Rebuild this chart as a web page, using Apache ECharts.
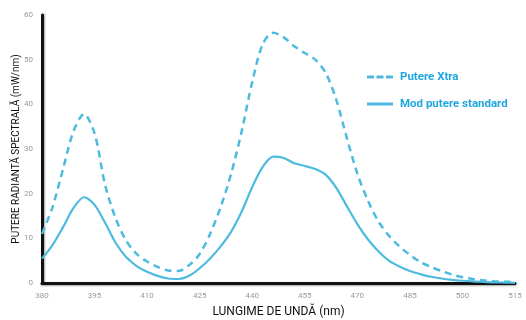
<!DOCTYPE html>
<html><head><meta charset="utf-8">
<script src="https://cdn.jsdelivr.net/npm/echarts@6/dist/echarts.min.js"></script>
<style>html,body{margin:0;padding:0;background:#fff}#c{width:526px;height:320px}</style>
</head><body><div id="c"></div>
<script>
var wavelengths = [380,383,386,389,392,395,398,401,404,407,410,413,416,419,422,425,428,431,434,437,440,443,446,449,452,455,458,461,464,467,470,473,476,479,482,485,488,491,494,497,500,503,506,509,512,515];
var xtra = [11,17,25.5,34,37.8,33.5,22,14.5,9.5,6.5,4.8,3.6,2.8,2.7,4,6.5,11,17,24.5,34,45,53.5,56,55,53,51.5,50,47,41,32.5,24.5,18.5,13.8,10.6,8.2,6.3,4.7,3.6,2.7,1.9,1.3,0.9,0.6,0.4,0.3,0.2];
var standard = [5.5,8.5,12.5,16.8,19.2,17.5,13.5,9,5.8,3.8,2.5,1.6,1.0,0.9,1.6,3.3,5.5,8.2,11.5,16,21.5,26,28.3,28,26.8,26.2,25.5,24.2,21.3,17.2,13.2,9.8,7.1,5,3.7,2.7,2,1.4,1.0,0.7,0.5,0.35,0.25,0.15,0.1,0.05];
var xTicks = [380, 395, 410, 425, 440, 455, 470, 485, 500, 515];
var yTicks = [0, 10, 20, 30, 40, 50, 60];
var seriesNames = ['Putere Xtra', 'Mod putere standard'];
var xName = 'LUNGIME DE UNDĂ (nm)';
var yName = 'PUTERE RADIANTĂ SPECTRALĂ (mW/nm)';

function pairs(xs, ys){ return xs.map(function(x,i){ return [x, ys[i]]; }); }
var lineColor = '#4dbbdf';
var chart = echarts.init(document.getElementById('c'));
chart.setOption({
  animation: false,
  grid: {left: 42, right: 11, top: 15, bottom: 37, containLabel: false, outerBoundsMode: 'none'},
  legend: {
    orient: 'vertical', left: 362, top: 66, itemWidth: 26, itemHeight: 3, itemGap: 15,
    data: [
      {name: seriesNames[0], icon: 'path://M0,0h7v3h-7z M9.5,0h7v3h-7z M19,0h7v3h-7z'},
      {name: seriesNames[1], icon: 'path://M0,0h26v3h-26z'}
    ],
    itemStyle: {color: lineColor},
    textStyle: {color: '#1ea6df', fontSize: 11.5, fontWeight: 'bold', fontFamily: 'Roboto', padding: [0,0,0,2]}
  },
  xAxis: {
    type: 'value', min: xTicks[0], max: xTicks[xTicks.length-1], interval: 15,
    name: xName, nameLocation: 'middle', nameGap: 23, nameMoveOverlap: false,
    nameTextStyle: {color: '#111', fontSize: 12, fontFamily: 'Roboto'},
    axisLine: {lineStyle: {color: '#111', width: 3, shadowColor: 'rgba(0,0,0,0.35)', shadowBlur: 2, shadowOffsetY: 1}},
    axisTick: {show: false},
    axisLabel: {color: '#999', fontSize: 8, margin: 9, fontFamily: 'Roboto'},
    splitLine: {show: false}
  },
  yAxis: {
    type: 'value', min: yTicks[0], max: yTicks[yTicks.length-1], interval: 10,
    name: yName, nameLocation: 'middle', nameGap: 21, nameRotate: 90, nameMoveOverlap: false,
    nameTextStyle: {color: '#111', fontSize: 10, fontFamily: 'Roboto'},
    axisLine: {show: true, lineStyle: {color: '#111', width: 3, shadowColor: 'rgba(0,0,0,0.35)', shadowBlur: 2, shadowOffsetX: 1}},
    axisTick: {show: false},
    axisLabel: {color: '#999', fontSize: 8, margin: 9, fontFamily: 'Roboto'},
    splitLine: {show: false}
  },
  series: [
    {name: seriesNames[0], type: 'line', smooth: 0.3, symbol: 'none', data: pairs(wavelengths, xtra),
     lineStyle: {color: lineColor, width: 2.5, type: [7, 5]}, itemStyle: {color: lineColor}},
    {name: seriesNames[1], type: 'line', smooth: 0.3, symbol: 'none', data: pairs(wavelengths, standard),
     lineStyle: {color: lineColor, width: 2.2}, itemStyle: {color: lineColor}}
  ]
});
</script></body></html>
